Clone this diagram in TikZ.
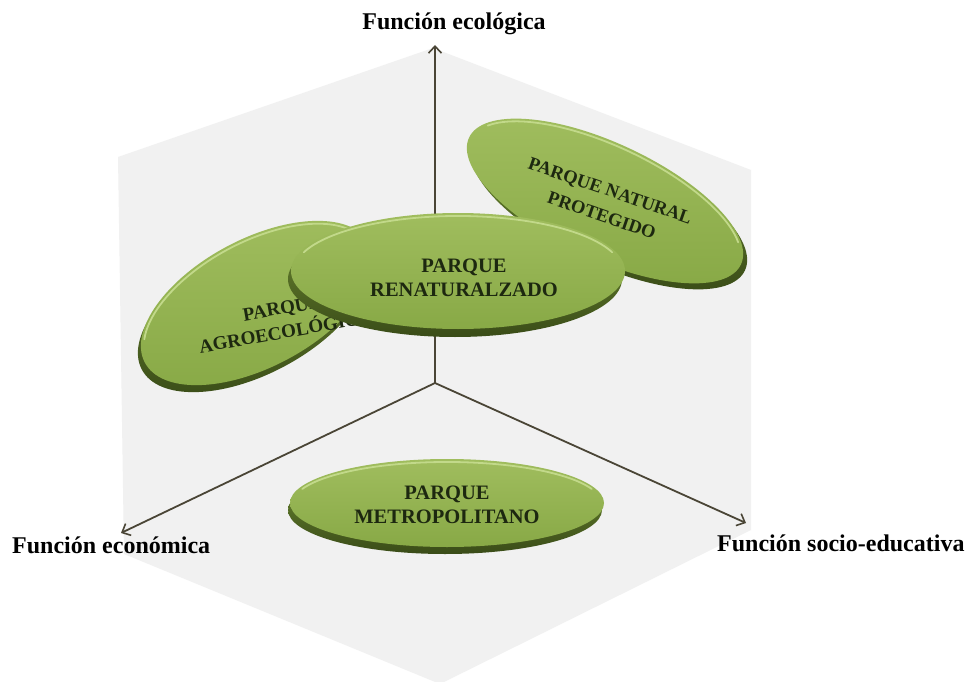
\documentclass[tikz,border=0pt]{standalone}
\usepackage{fontspec}
\setmainfont{Liberation Serif}
\usetikzlibrary{arrows.meta}
\definecolor{bggray}{HTML}{F1F1F1}
\definecolor{axiscol}{HTML}{4A4536}
\definecolor{rimdark}{HTML}{3A4C18}
\definecolor{rimmid}{HTML}{6F8C33}
\definecolor{facetop}{HTML}{A0BD5E}
\definecolor{facebot}{HTML}{88A946}
\definecolor{hilite}{HTML}{C2D98A}
\definecolor{txtcol}{HTML}{1D2810}
\newcommand\parkdisc[7]{%
  \begin{scope}[shift={(#1,#2)}]
    \begin{scope}[shift={(#6,#7)},rotate=#5]
      \shade[top color=rimmid,bottom color=rimdark] (0,0) ellipse [x radius=#3,y radius=#4];
    \end{scope}
    \begin{scope}[rotate=#5]
      \shade[top color=facetop,bottom color=facebot] (0,0) ellipse [x radius=#3,y radius=#4];
      \draw[hilite,line width=1.8pt,line cap=round] (200:#3-3 and #4-3) arc[start angle=200,end angle=340,x radius=#3-3,y radius=#4-3];
    \end{scope}
  \end{scope}}
\tikzset{
  axisarrow/.style={draw=axiscol,line width=1.8pt,-{Straight Barb[length=7pt,width=13pt,line width=1.6pt]}},
  lbl/.style={font=\bfseries\fontsize{24}{28}\selectfont,text=black,inner sep=0pt},
  ptext/.style={font=\bfseries\fontsize{#1}{24}\selectfont,text=txtcol,align=center,inner sep=0pt},
  ptext/.default=20
}
\begin{document}
\begin{tikzpicture}[x=1pt,y=-1pt]
\useasboundingbox[fill=white] (0,0) rectangle (967,682);
% background cube silhouette
\fill[bggray] (433,48) -- (751,170) -- (751,530) -- (440,684) -- (124,554) -- (118,157) -- cycle;
% axes
\coordinate (o) at (435,383);
\coordinate (up) at (435,45);
\coordinate (lf) at (121,533);
\coordinate (rt) at (746,523);
\draw[axisarrow] (o) -- (up);
\draw[axisarrow] (o) -- (lf);
\draw[axisarrow] (o) -- (rt);
% axis labels
\node[lbl] (ecoL) at (454,24) {Función ecológica};
\node[lbl,anchor=west] (econL) at (12,545) {Función económica};
\node[lbl,anchor=west] (socL) at (717,543) {Función socio-educativa};
% agroecologico
\parkdisc{257}{303}{127}{64}{28}{-3}{7}
\node[ptext=19,rotate=10] (agroT) at (284,320) {PARQUE\\AGROECOLÓGICO};
% natural protegido
\parkdisc{605}{201}{150}{58}{-25}{4}{6}
\node[ptext=18.5,rotate=-19,font=\bfseries\fontsize{18.5}{26}\selectfont] (natT) at (606,203) {PARQUE NATURAL\\PROTEGIDO};
% renaturalizado
\parkdisc{458}{271}{167}{58}{0}{-3}{8}
\node[ptext=20.5] (renT) at (464,278) {PARQUE\\RENATURALZADO};
% metropolitano
\parkdisc{447}{503}{157}{44}{0}{-2}{7}
\node[ptext=20.5] (metT) at (447,505) {PARQUE\\METROPOLITANO};
\end{tikzpicture}
\end{document}
